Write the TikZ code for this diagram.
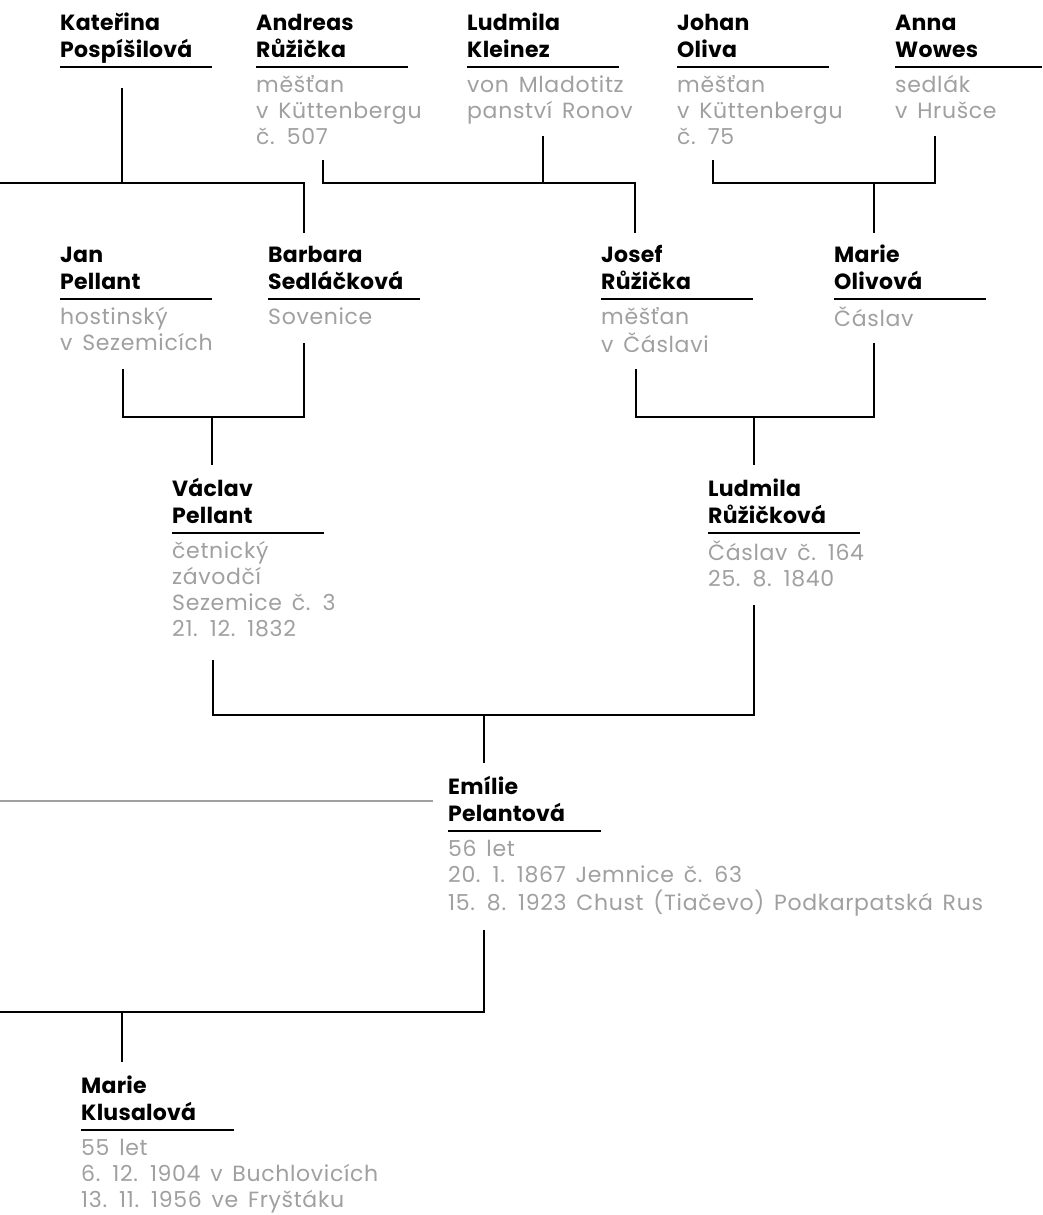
\documentclass[tikz,border=0pt]{standalone}
\usepackage{fontspec}
\setmainfont{Poppins}[Numbers=Monospaced]
\newfontfamily\namefont{Poppins}[LetterSpace=1]
\newfontfamily\infofont{Poppins}[Numbers=Monospaced, LetterSpace=3, WordSpace=1.5]
\usetikzlibrary{positioning}

\definecolor{infogray}{RGB}{160,160,160}
\newcommand{\namelines}[2]{\begin{tabular}[b]{@{}l@{}}#1\\#2\end{tabular}}
\newcommand{\infolines}[1]{\begin{tabular}[t]{@{}l@{}}#1\end{tabular}}

\begin{document}
\begin{tikzpicture}[
    x=1pt, y=-1pt,
    person name/.style={inner sep=0pt, font=\namefont\fontsize{22}{27}\selectfont\bfseries}, % two-line name above the rule
    person info/.style={inner sep=0pt, text=infogray, font=\infofont\fontsize{22}{26}\selectfont}, % grey notes under the rule
    name rule/.style={line width=2pt, black},
    link/.style={line width=2pt, black}, % parent-child lines
    spouse link/.style={line width=2pt, infogray}
]

    % === Page ===
    \path[fill=white, use as bounding box] (0,0) rectangle (1042,1215);

    % ====== GENERATION 1 ======
    \coordinate (kat) at (60,67);
    \coordinate (and) at (256,67);
    \coordinate (lud) at (467,67);
    \coordinate (joh) at (677,67);
    \coordinate (ann) at (895,67);

    \node[person name, above right=1pt and 0pt of kat] (kat-name) {\namelines{Kateřina}{Pospíšilová}};
    \draw[name rule] (kat) -- ++(152,0);

    \node[person name, above right=1pt and 0pt of and] (and-name) {\namelines{Andreas}{Růžička}};
    \draw[name rule] (and) -- ++(152,0);
    \node[person info, below right=7pt and 0pt of and] (and-info) {\infolines{měšťan\\v Küttenbergu\\č. 507}};

    \node[person name, above right=1pt and 0pt of lud] (lud-name) {\namelines{Ludmila}{Kleinez}};
    \draw[name rule] (lud) -- ++(152,0);
    \node[person info, below right=7pt and 0pt of lud] (lud-info) {\infolines{von Mladotitz\\panství Ronov}};

    \node[person name, above right=1pt and 0pt of joh] (joh-name) {\namelines{Johan}{Oliva}};
    \draw[name rule] (joh) -- ++(152,0);
    \node[person info, below right=7pt and 0pt of joh] (joh-info) {\infolines{měšťan\\v Küttenbergu\\č. 75}};

    \node[person name, above right=1pt and 0pt of ann] (ann-name) {\namelines{Anna}{Wowes}};
    \draw[name rule] (ann) -- ++(147,0);
    \node[person info, below right=7pt and 0pt of ann] (ann-info) {\infolines{sedlák\\v Hrušce}};

    % ====== GENERATION 2 ======
    \coordinate (jan) at (60,299);
    \coordinate (bar) at (268,299);
    \coordinate (jos) at (601,299);
    \coordinate (mar) at (834,299);

    \node[person name, above right=1pt and 0pt of jan] (jan-name) {\namelines{Jan}{Pellant}};
    \draw[name rule] (jan) -- ++(152,0);
    \node[person info, below right=7pt and 0pt of jan] (jan-info) {\infolines{hostinský\\v Sezemicích}};

    \node[person name, above right=1pt and 0pt of bar] (bar-name) {\namelines{Barbara}{Sedláčková}};
    \draw[name rule] (bar) -- ++(152,0);
    \node[person info, below right=7pt and 0pt of bar] (bar-info) {\infolines{Sovenice}};

    \node[person name, above right=1pt and 0pt of jos] (jos-name) {\namelines{Josef}{Růžička}};
    \draw[name rule] (jos) -- ++(152,0);
    \node[person info, below right=7pt and 0pt of jos] (jos-info) {\infolines{měšťan\\v Čáslavi}};

    \node[person name, above right=1pt and 0pt of mar] (mar-name) {\namelines{Marie}{Olivová}};
    \draw[name rule] (mar) -- ++(152,0);
    \node[person info, below right=7pt and 0pt of mar] (mar-info) {\infolines{Čáslav}};

    % ====== GENERATION 3 ======
    \coordinate (vac) at (172,533);
    \coordinate (lru) at (708,533);

    \node[person name, above right=1pt and 0pt of vac] (vac-name) {\namelines{Václav}{Pellant}};
    \draw[name rule] (vac) -- ++(152,0);
    \node[person info, below right=7pt and 0pt of vac] (vac-info) {\infolines{četnický\\závodčí\\Sezemice č. 3\\21. 12. 1832}};

    \node[person name, above right=1pt and 0pt of lru] (lru-name) {\namelines{Ludmila}{Růžičková}};
    \draw[name rule] (lru) -- ++(152,0);
    \node[person info, below right=7pt and 0pt of lru] (lru-info) {\infolines{Čáslav č. 164\\25. 8. 1840}};

    % ====== GENERATION 4 ======
    \coordinate (emi) at (448,831);

    \node[person name, above right=1pt and 0pt of emi] (emi-name) {\namelines{Emílie}{Pelantová}};
    \draw[name rule] (emi) -- ++(153,0);
    \node[person info, below right=7pt and 0pt of emi] (emi-info) {\infolines{56 let\\20. 1. 1867 Jemnice č. 63\\15. 8. 1923 Chust (Tiačevo) Podkarpatská Rus}};

    % ====== GENERATION 5 ======
    \coordinate (mkl) at (81,1130);

    \node[person name, above right=1pt and 0pt of mkl] (mkl-name) {\namelines{Marie}{Klusalová}};
    \draw[name rule] (mkl) -- ++(153,0);
    \node[person info, below right=7pt and 0pt of mkl] (mkl-info) {\infolines{55 let\\6. 12. 1904 v Buchlovicích\\13. 11. 1956 ve Fryštáku}};

    % ====== CONNECTOR END POINTS ======
    \coordinate (kat-out) at (122,88);
    \coordinate (and-out) at (323,160);
    \coordinate (lud-out) at (543,136);
    \coordinate (joh-out) at (713,160);
    \coordinate (ann-out) at (935,136);
    \coordinate (jan-out) at (123,369);
    \coordinate (bar-out) at (304,343);
    \coordinate (jos-out) at (636,369);
    \coordinate (mar-out) at (874,343);
    \coordinate (vac-out) at (213,660);
    \coordinate (lru-out) at (754,605);
    \coordinate (emi-out) at (484,930);

    \coordinate (bar-in) at (304,233);
    \coordinate (jos-in) at (635,233);
    \coordinate (mar-in) at (874,233);
    \coordinate (vac-in) at (212,465);
    \coordinate (lru-in) at (754,465);
    \coordinate (emi-in) at (484,763);
    \coordinate (mkl-in) at (122,1062);

    \coordinate (edgeA) at (0,183);
    \coordinate (famB) at (635,183);
    \coordinate (famC) at (935,183);
    \coordinate (famD) at (304,417);
    \coordinate (famE) at (874,417);
    \coordinate (famF) at (754,715);
    \coordinate (edgeG) at (0,1012);
    \coordinate (edgeS) at (0,801);
    \coordinate (spouse-end) at (433,801);

    % ====== FAMILY LINES ======
    % Kateřina -> Barbara
    \draw[link] (kat-out) -- (kat-out |- edgeA);
    \draw[link] (edgeA) -| (bar-in);

    % Andreas + Ludmila -> Josef
    \draw[link] (and-out) |- (famB) -- (jos-in);
    \draw[link] (lud-out) -- (lud-out |- famB);

    % Johan + Anna -> Marie
    \draw[link] (joh-out) |- (famC) -- (ann-out);
    \draw[link] (mar-in |- famC) -- (mar-in);

    % Jan + Barbara -> Václav
    \draw[link] (jan-out) |- (famD) -- (bar-out);
    \draw[link] (vac-in |- famD) -- (vac-in);

    % Josef + Marie -> Ludmila
    \draw[link] (jos-out) |- (famE) -- (mar-out);
    \draw[link] (lru-in |- famE) -- (lru-in);

    % Václav + Ludmila -> Emílie
    \draw[link] (vac-out) |- (famF) -- (lru-out);
    \draw[link] (emi-in |- famF) -- (emi-in);

    % Emílie -> Marie
    \draw[spouse link] (edgeS) -- (spouse-end);
    \draw[link] (emi-out) |- (edgeG);
    \draw[link] (mkl-in |- edgeG) -- (mkl-in);

\end{tikzpicture}
\end{document}
